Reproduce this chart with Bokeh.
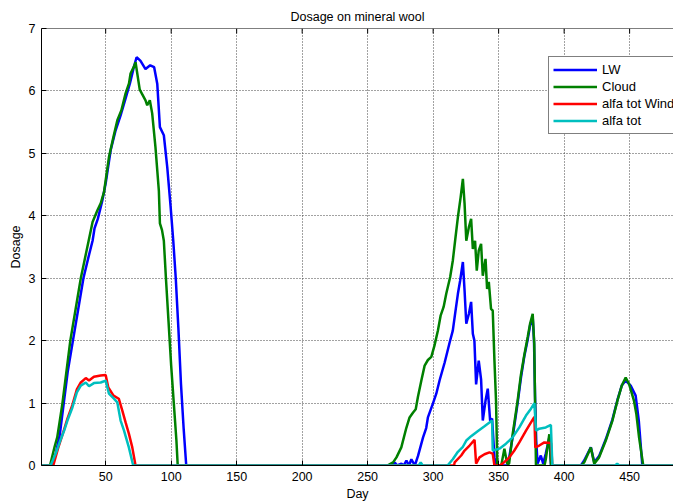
from bokeh.plotting import figure
from bokeh.models import Range1d, FixedTicker, Legend, LegendItem, Span
from bokeh.embed import file_html
from bokeh.resources import INLINE

# ---- data ----
lw_day = [1, 9, 12, 15, 18, 21, 25, 29, 33, 37, 40, 41.5, 44, 47.5, 50, 53.8, 57.6, 61.4, 65.2, 68.5,
          71.5, 73.6, 76.6, 80.4, 84, 87, 89.4, 91.4, 94.4, 97, 99.6, 101.6, 103.5, 105.5, 107.5, 109.5, 111.5,
          269, 270.7, 272.5, 275.8, 277.5, 279.6, 281.5, 283.4, 286, 288.4, 292.3, 294.7, 296, 299.8, 302.4,
          305, 308.8, 312.6, 315, 317.1, 318.9, 320.6, 322.7, 324, 325.3, 327.3, 329, 330.3, 331.5, 332.8,
          334.8, 336.6, 337.9, 340, 341.7, 343.5, 345, 346.8, 348,
          357, 360.7, 364.5, 367, 369.6, 372.2, 374, 376, 377, 377.8, 378.7, 379.7, 382.2, 384, 386, 388.7, 390,
          412.8, 415.3, 420.4, 423, 426.7, 431.8, 436.9, 440.7, 444, 447, 450.8, 454.6, 457, 459.7, 487]
lw_val = [0, 0, 0.2, 0.5, 1.0, 1.5, 2.0, 2.5, 3.0, 3.35, 3.6, 3.8, 3.95, 4.25, 4.52, 5.05, 5.37, 5.61, 5.88, 6.12,
          6.38, 6.54, 6.48, 6.35, 6.41, 6.38, 6.11, 5.42, 5.29, 4.78, 4.14, 3.6, 3.0, 2.2, 1.3, 0.6, 0,
          0, 0.05, 0, 0.03, 0, 0.08, 0, 0.1, 0, 0.15, 0.45, 0.6, 0.77, 0.99, 1.15,
          1.37, 1.65, 1.97, 2.16, 2.48, 2.75, 2.96, 3.26, 2.8, 2.27, 2.43, 2.62, 2.11, 2.0, 1.3,
          1.68, 1.38, 0.72, 1.04, 1.23, 0.72, 0.75, 0.13, 0,
          0, 0.45, 1.0, 1.4, 1.75, 2.02, 2.24, 2.38, 2.0, 1.1, 0.4, 0.03, 0.16, 0.03, 0.19, 0.45, 0,
          0, 0.08, 0.29, 0.05, 0.15, 0.42, 0.74, 1.05, 1.28, 1.36, 1.28, 1.12, 0.72, 0, 0]

cloud_day = [1, 7.5, 11, 13, 15, 17, 20, 23, 27, 31, 34, 37, 40, 43.7, 46.2, 48.7, 50, 52.5, 55.9, 58.9,
             62, 65.2, 67.8, 69, 72, 72.8, 76, 80.4, 81.7, 83.7, 85.5, 88, 90.6, 91.4, 93, 94.4, 96, 98,
             100, 102, 104, 105,
             265, 269.4, 272, 275.7, 279.5, 282, 284.7, 286.7, 288.4, 291, 293.5, 296, 298.6, 301, 303.6,
             305.7, 308, 310, 313, 315, 317.1, 318.9, 321, 322.7, 324, 325.3, 327.3, 329, 330.3, 332,
             333.3, 334.8, 336.6, 337.9, 340, 341.2, 342.5, 344.2, 345.5, 346.8, 348, 349,
             352, 354.4, 356.5, 358, 360.7, 364.5, 367, 369.6, 372.2, 374, 376, 377.2, 377.8, 378.5,
             385, 386, 388.7, 390,
             413, 415.3, 420.4, 423, 426.7, 431.8, 436.9, 440.7, 444, 447, 449.5, 453.3, 455.1, 457.2,
             460.4, 487]
cloud_val = [0, 0, 0.3, 0.45, 0.72, 1.0, 1.5, 2.0, 2.5, 3.0, 3.3, 3.6, 3.9, 4.09, 4.2, 4.38, 4.57, 4.94, 5.26, 5.53,
             5.69, 5.96, 6.12, 6.28, 6.41, 6.46, 6.02, 5.85, 5.77, 5.85, 5.64, 5.1, 4.4, 3.88, 3.77, 3.6, 3.0, 2.3,
             1.6, 1.0, 0.4, 0,
             0, 0.05, 0.13, 0.29, 0.6, 0.77, 0.85, 0.9, 1.1, 1.36, 1.6, 1.69, 1.74, 1.92, 2.16,
             2.4, 2.54, 2.75, 3.02, 3.28, 3.66, 3.98, 4.3, 4.59, 4.19, 3.6, 3.82, 3.95, 3.47, 3.6,
             3.12, 3.44, 3.55, 3.04, 3.31, 2.83, 2.94, 2.51, 2.48, 1.68, 1.04, 0,
             0, 0.27, 0.03, 0.03, 0.5, 1.04, 1.45, 1.77, 2.06, 2.27, 2.43, 1.95, 1.04, 0,
             0, 0.1, 0.5, 0,
             0, 0.05, 0.29, 0.03, 0.13, 0.4, 0.72, 1.04, 1.28, 1.41, 1.31, 1.04, 0.83, 0.45,
             0, 0]

wind_day = [1, 10, 14, 18.3, 20.8, 24.6, 28, 31, 34.8, 37.3, 41, 46.2, 50, 52, 56, 60, 62.7, 65.2, 67.7,
            70.3, 72.8,
            316, 316.4, 321.4, 324, 327.8, 331.6, 332.8, 335.4, 339.2, 343, 345.5, 346.8,
            351, 353, 358.2, 362, 365.8, 370.9, 374.7, 377.3, 378, 381, 384.9, 390, 391, 487]
wind_val = [0, 0, 0.3, 0.58, 0.75, 0.97, 1.22, 1.33, 1.40, 1.36, 1.42, 1.44, 1.45, 1.25, 1.12, 1.07, 0.88, 0.69, 0.51,
            0.29, 0,
            0, 0.05, 0.16, 0.24, 0.32, 0.41, 0.03, 0.13, 0.18, 0.21, 0.19, 0,
            0, 0.03, 0.13, 0.24, 0.37, 0.56, 0.69, 0.78, 0.29, 0.32, 0.37, 0.36, 0, 0]

alfa_day = [1, 8, 12, 15, 18.3, 20.8, 24.6, 28, 31, 34.8, 37.3, 41, 46.2, 50, 52.5, 56.3, 58.9, 61.4, 64,
            67.7, 71,
            289, 290.5, 292, 311, 315, 318.9, 322.7, 325.3, 329, 334, 339.2, 343, 345, 345.5, 350.6,
            355.6, 360.7, 365.8, 370.9, 374.7, 377.3, 378.5, 381, 386, 389.9, 391,
            439, 440.5, 442, 487]
alfa_val = [0, 0, 0.2, 0.38, 0.56, 0.72, 0.93, 1.17, 1.28, 1.33, 1.27, 1.32, 1.33, 1.36, 1.15, 1.07, 1.01, 0.72, 0.56,
            0.29, 0,
            0, 0.05, 0, 0, 0.1, 0.22, 0.3, 0.4, 0.47, 0.55, 0.63, 0.69, 0.72, 0.24, 0.27,
            0.35, 0.45, 0.61, 0.8, 0.91, 1.0, 0.56, 0.59, 0.61, 0.65, 0,
            0, 0.03, 0, 0]

x_ticks = [50, 100, 150, 200, 250, 300, 350, 400, 450, 500]
y_ticks = [0, 1, 2, 3, 4, 5, 6, 7]

series_names = ["LW", "Cloud", "alfa tot Wind", "alfa tot"]
series_colors = ["#0000FF", "#008000", "#FF0000", "#00BFBF"]

FONT = "Liberation Sans"
X_MIN, X_MAX, Y_MIN, Y_MAX = 1, 483.5, 0, 7

p = figure(width=673, height=503, output_backend="svg", toolbar_location=None,
           x_range=Range1d(X_MIN, X_MAX), y_range=Range1d(Y_MIN, Y_MAX),
           min_border_left=41, min_border_right=0, min_border_top=28, min_border_bottom=38,
           title="Dosage on mineral wool")
p.outline_line_color = None
p.background_fill_color = "white"
p.border_fill_color = "white"

p.title.align = "center"
p.title.text_line_height = 0.6
p.title.text_font = FONT
p.title.text_font_size = "12.5px"
p.title.text_font_style = "normal"
p.title.text_color = "black"

xt = FixedTicker(ticks=x_ticks)
yt = FixedTicker(ticks=y_ticks)

for ax in (p.xaxis[0], p.yaxis[0]):
    ax.major_tick_in = 5
    ax.major_tick_out = 0
    ax.minor_tick_line_color = None
    ax.axis_line_color = "black"
    ax.major_tick_line_color = "black"
    ax.major_label_text_font = FONT
    ax.major_label_text_font_size = "12.5px"
    ax.major_label_text_color = "black"
    ax.axis_label_text_font = FONT
    ax.axis_label_text_font_size = "12.5px"
    ax.axis_label_text_font_style = "normal"
    ax.axis_label_text_color = "black"
    ax.major_label_standoff = 6

p.xaxis[0].ticker = xt
p.yaxis[0].ticker = yt
p.xaxis[0].axis_label = "Day"
p.yaxis[0].axis_label = "Dosage"
p.xaxis[0].axis_label_standoff = 3
p.yaxis[0].axis_label_standoff = 3

p.xgrid.ticker = xt
p.ygrid.ticker = yt
for g in (p.xgrid[0], p.ygrid[0]):
    g.grid_line_color = "#444444"
    g.grid_line_dash = "1 2"
    g.grid_line_width = 1

# top box edge with inward ticks (MATLAB "box on")
p.add_layout(Span(location=Y_MAX, dimension="width", line_color="black", line_width=1))
tick_len = 5 * (Y_MAX - Y_MIN) / 437.0
top_ticks = [t for t in x_ticks if X_MIN < t < X_MAX]
p.segment(x0=top_ticks, y0=[Y_MAX] * len(top_ticks), x1=top_ticks,
          y1=[Y_MAX - tick_len] * len(top_ticks), line_color="black", line_width=1)

renderers = []
for d, v, c in zip([lw_day, cloud_day, wind_day, alfa_day],
                   [lw_val, cloud_val, wind_val, alfa_val], series_colors):
    renderers.append(p.line(d, v, line_color=c, line_width=2.5))

legend = Legend(items=[LegendItem(label=n, renderers=[r]) for n, r in zip(series_names, renderers)],
                location=(507, 331), padding=4, spacing=0, margin=0,
                glyph_width=44, glyph_height=17, label_height=17, label_standoff=5,
                label_text_font=FONT, label_text_font_size="13px", label_text_color="black",
                border_line_color="black", border_line_width=1,
                background_fill_color="white", background_fill_alpha=1)
p.add_layout(legend)

open("out.html", "w").write(file_html(p, INLINE))
